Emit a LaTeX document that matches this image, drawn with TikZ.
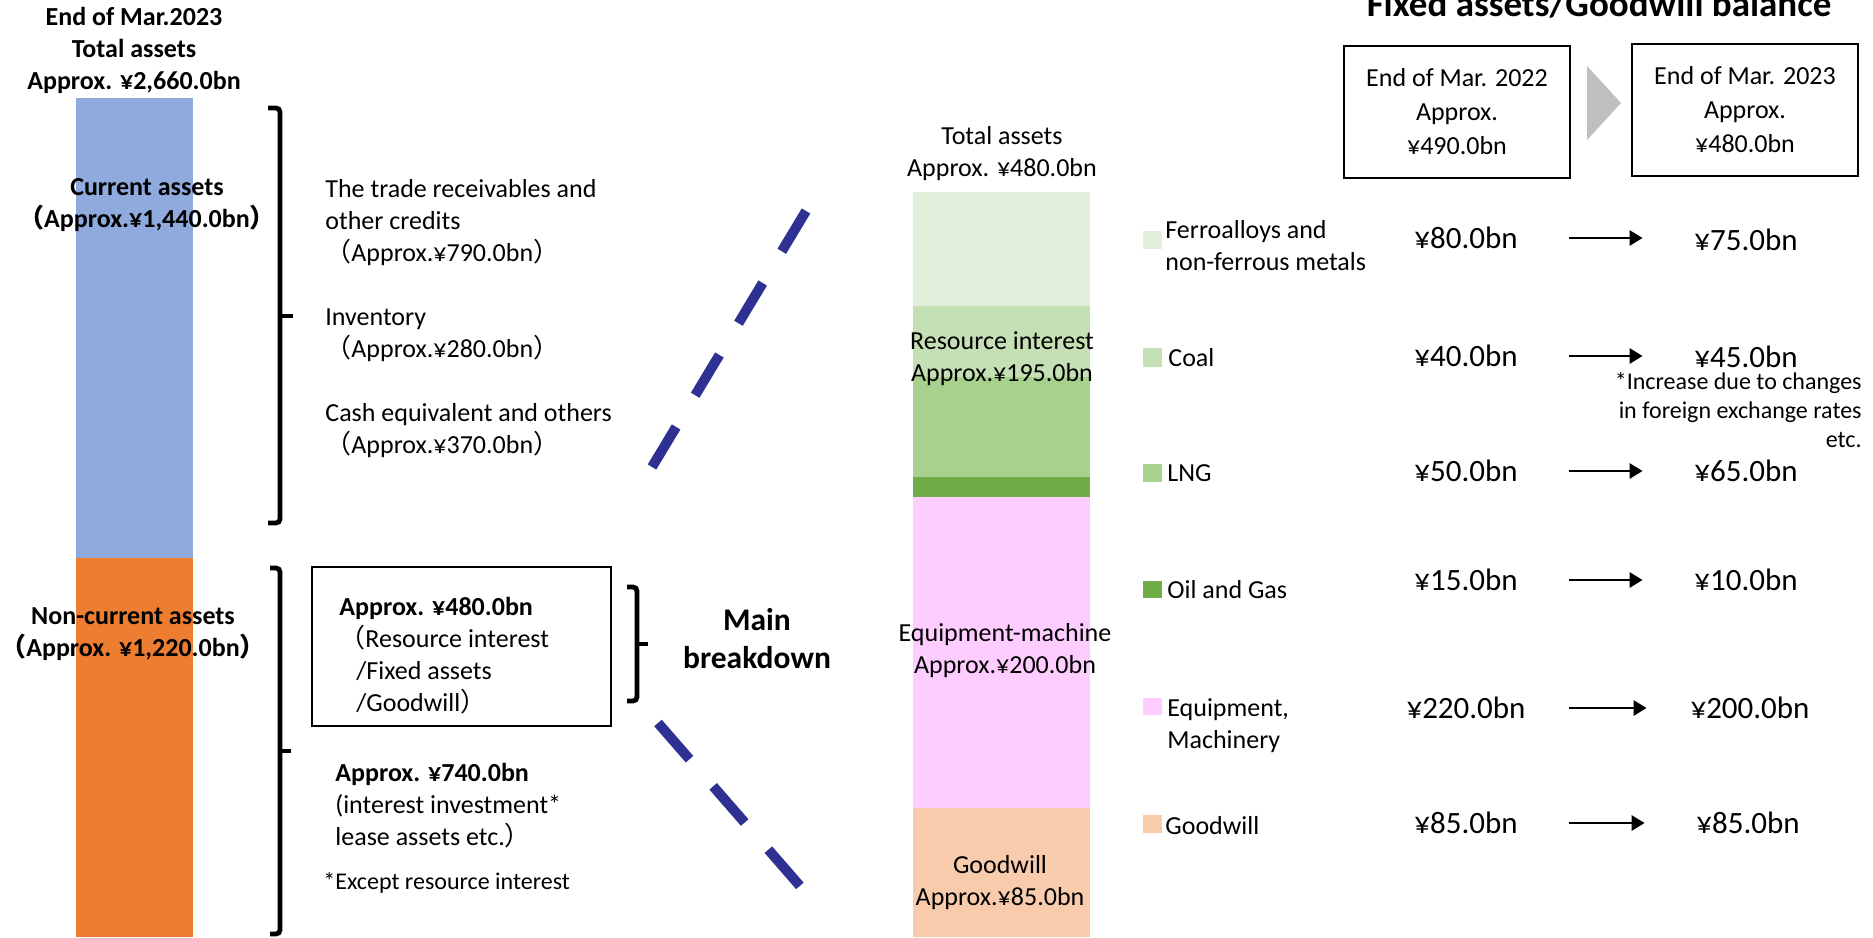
\documentclass[tikz,border=0pt]{standalone}
\usepackage{fontspec}
\setmainfont{Carlito}
\newfontfamily\cjk{Noto Sans CJK JP}
\usetikzlibrary{arrows.meta}
\definecolor{barblue}{RGB}{143,170,220}
\definecolor{barorange}{RGB}{237,125,49}
\definecolor{ferro}{RGB}{226,239,218}
\definecolor{coal}{RGB}{197,224,180}
\definecolor{lng}{RGB}{169,209,142}
\definecolor{oilgas}{RGB}{112,173,71}
\definecolor{equip}{RGB}{255,204,255}
\definecolor{goodw}{RGB}{248,203,173}
\definecolor{navy}{RGB}{46,49,146}
\newcommand\zl{{\cjk （}}
\newcommand\zr{{\cjk ）}}
\tikzset{
  txt/.style={inner sep=0pt, font=\fontsize{13pt}{16pt}\selectfont},
  btxt/.style={inner sep=0pt, font=\fontsize{13pt}{16pt}\selectfont\bfseries},
  notetxt/.style={inner sep=0pt, font=\fontsize{12pt}{14.5pt}\selectfont},
  val/.style={inner sep=0pt, minimum width=103pt, font=\fontsize{15.5pt}{19pt}\selectfont},
  brk/.style={line width=2.4pt, rounded corners=2pt},
  navyline/.style={navy, line width=5pt},
  arr/.style={line width=1.4pt, -{Triangle[length=6.5pt,width=7.5pt]}}
}

\begin{document}
\begin{tikzpicture}[x=0.5pt,y=-0.5pt]
   \useasboundingbox (0,0) rectangle (1873,937);
   % total assets bar
   \fill[barblue] (76,98) rectangle (193,558);
   \fill[barorange] (76,558) rectangle (193,937);
   \node[btxt, align=center, anchor=base] (total) at (134,89) {End of Mar.2023\\Total assets\\Approx. ¥2,660.0bn};
   \node[btxt, align=center, anchor=base] (cur) at (147,227) {Current assets\\\zl Approx.¥1,440.0bn\zr};
   \node[btxt, align=center, anchor=base] (noncur) at (133,656) {Non-current assets\\\zl Approx. ¥1,220.0bn\zr};
   \draw[brk] (268,108) -- (280,108) -- (280,523) -- (268,523);
   \draw[brk] (280,316) -- (293,316);
   \draw[brk] (270,568) -- (280,568) -- (280,934) -- (270,934);
   \draw[brk] (280,751) -- (291,751);
   \node[txt, align=left, anchor=base west] (trade) at (325,261) {The trade receivables and\\other credits\\\zl Approx.¥790.0bn\zr};
   \node[txt, align=left, anchor=base west] (inv) at (325,357) {Inventory\\\zl Approx.¥280.0bn\zr};
   \node[txt, align=left, anchor=base west] (cash) at (325,453) {Cash equivalent and others\\\zl Approx.¥370.0bn\zr};
   % main breakdown
   \node[draw, line width=1pt, minimum width=149.5pt, minimum height=79.5pt, anchor=north west] (box480) at (311,566) {};
   \node[txt, align=left, anchor=base west] (res480) at (339,711) {\textbf{Approx. ¥480.0bn}\\\zl Resource interest\\\hspace*{8.5pt}/Fixed assets\\\hspace*{8.5pt}/Goodwill\zr};
   \draw[brk] (627,587) -- (637,587) -- (637,701) -- (627,701);
   \draw[brk] (637,644) -- (648,644);
   \node[inner sep=0pt, align=center, anchor=base, font=\fontsize{15.75pt}{19pt}\selectfont\bfseries] (main) at (757,668) {Main\\breakdown};
   \node[txt, align=left, anchor=base west] (rest740) at (335,845) {\textbf{Approx. ¥740.0bn}\\(interest investment*\\lease assets etc.\zr};
   \node[notetxt, anchor=base west] (except) at (323,889) {*Except resource interest};
   \coordinate (c1) at (806,211);
   \coordinate (c2) at (652,467);
   \coordinate (c3) at (658,723);
   \coordinate (c4) at (800,886);
   \draw[navyline, dash pattern=on 23.5pt off 18.5pt] (c1) -- (c2);
   \draw[navyline, dash pattern=on 24pt off 18pt] (c3) -- (c4);
   % resource interest / fixed assets / goodwill bar
   \fill[ferro] (913,192) rectangle (1090,306);
   \fill[coal] (913,306) rectangle (1090,377);
   \fill[lng] (913,377) rectangle (1090,477);
   \fill[oilgas] (913,477) rectangle (1090,497);
   \fill[equip] (913,497) rectangle (1090,808);
   \fill[goodw] (913,808) rectangle (1090,937);
   \node[txt, align=center, anchor=base] (mtot) at (1002,176) {Total assets\\Approx. ¥480.0bn};
   \node[txt, align=center, anchor=base] (mres) at (1002,381) {Resource interest\\Approx.¥195.0bn};
   \node[txt, align=center, anchor=base] (mequ) at (1005,673) {Equipment-machine\\Approx.¥200.0bn};
   \node[txt, align=center, anchor=base] (mgood) at (1000,905) {Goodwill\\Approx.¥85.0bn};
   % legend
   \fill[ferro] (1143,231) rectangle (1162,249);
   \fill[coal] (1143,348) rectangle (1162,367);
   \fill[lng] (1143,464) rectangle (1162,482);
   \fill[oilgas] (1143,581) rectangle (1162,598);
   \fill[equip] (1143,698) rectangle (1162,715);
   \fill[goodw] (1143,815) rectangle (1162,833);
   \node[txt, align=left, anchor=base west] (lferro) at (1165,270) {Ferroalloys and\\non-ferrous metals};
   \node[txt, anchor=base west] (lcoal) at (1168,366) {Coal};
   \node[txt, anchor=base west] (llng) at (1167,481) {LNG};
   \node[txt, anchor=base west] (loil) at (1167,598) {Oil and Gas};
   \node[txt, align=left, anchor=base west] (lequip) at (1167,748) {Equipment,\\Machinery};
   \node[txt, anchor=base west] (lgood) at (1165,834) {Goodwill};
   % balance
   \node[inner sep=0pt, anchor=base, font=\fontsize{18.5pt}{22pt}\selectfont\bfseries] (head) at (1599,17) {Fixed assets/Goodwill balance};
   \node[draw, line width=1pt, minimum width=112.75pt, minimum height=66pt, align=center, font=\fontsize{13pt}{17pt}\selectfont] (y22) at (1457,112) {End of Mar. 2022\\Approx.\\¥490.0bn};
   \node[draw, line width=1pt, minimum width=112.75pt, minimum height=66pt, align=center, font=\fontsize{13pt}{17pt}\selectfont] (y23) at (1745,110) {End of Mar. 2023\\Approx.\\¥480.0bn};
   \fill[gray!50] (1587,66) -- (1621,103) -- (1587,140) -- cycle;
   \node[val] (a1) at (1466,238) {¥80.0bn};
   \node[val] (a2) at (1466,356) {¥40.0bn};
   \node[val] (a3) at (1466,471) {¥50.0bn};
   \node[val] (a4) at (1466,580) {¥15.0bn};
   \node[val] (a5) at (1466,708) {¥220.0bn};
   \node[val] (a6) at (1466,823) {¥85.0bn};
   \node[val] (b1) at (1746,240) {¥75.0bn};
   \node[val] (b2) at (1746,357) {¥45.0bn};
   \node[val] (b3) at (1746,471) {¥65.0bn};
   \node[val] (b4) at (1746,580) {¥10.0bn};
   \node[val] (b5) at (1750,708) {¥200.0bn};
   \node[val] (b6) at (1748,823) {¥85.0bn};
   \draw[arr] (a1.east) -- (a1.east -| b1.west);
   \draw[arr] (a2.east) -- (a2.east -| b2.west);
   \draw[arr] (a3.east) -- (a3.east -| b3.west);
   \draw[arr] (a4.east) -- (a4.east -| b4.west);
   \draw[arr] (a5.east) -- (a5.east -| b5.west);
   \draw[arr] (a6.east) -- (a6.east -| b6.west);
   \node[notetxt, align=right, anchor=base east] (fxnote) at (1862,447) {*Increase due to changes\\in foreign exchange rates\\etc.};
\end{tikzpicture}
\end{document}
